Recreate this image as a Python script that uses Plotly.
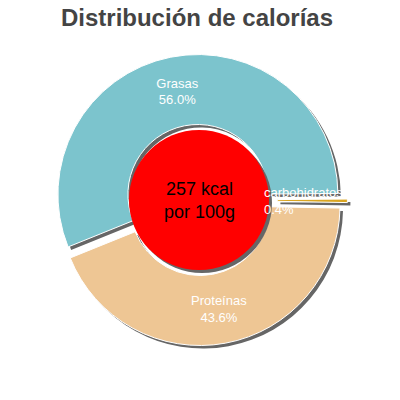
import math
import plotly.graph_objects as go

# data
labels = ['Grasas', 'carbohidratos', 'Proteínas']
values = [56.0, 0.4, 43.6]
kcal = 257
title_text = 'Distribución de calorías'

# style
colors = ['rgb(124,196,205)', 'rgb(218,165,32)', 'rgb(238,198,148)']
shadow = 'rgb(102,102,102)'
pulls = [0.04, 0.06, 0.04]
rotation = -112
hole = 0.5

W, H = 400, 400
PAGE = 8               # page body margin, the figure sits 8px in
CX, CY = 199 - PAGE, 200 - PAGE   # pie centre in figure pixels
R = 140                # outer radius in pixels
SH = 3                 # shadow offset in pixels


def pie_domain(dx=0, dy=0):
    """Domain box (paper coords) that gives a pie of radius R at the centre."""
    half = R * (1 + max(pulls))
    x0 = (CX + dx - half) / W
    x1 = (CX + dx + half) / W
    y0 = 1 - (CY + dy + half) / H
    y1 = 1 - (CY + dy - half) / H
    return dict(x=[x0, x1], y=[y0, y1])


def slice_mid_angle(i):
    """Bisector angle of slice i, degrees clockwise from 12 o'clock."""
    total = sum(values)
    before = sum(values[:i])
    return rotation + 360 * (before + values[i] / 2) / total


fig = go.Figure()

# shadow pie
fig.add_trace(go.Pie(
    labels=labels, values=values, sort=False, direction='clockwise',
    rotation=rotation, hole=hole, pull=pulls,
    marker=dict(colors=[shadow] * len(values), line=dict(width=0)),
    textinfo='none', hoverinfo='skip', showlegend=False,
    domain=pie_domain(SH, SH),
))

# main pie; the thin slice gets its label as an annotation
templates = ['%{label}<br>%{percent:.1%}' if v > 5 else '' for v in values]
fig.add_trace(go.Pie(
    labels=labels, values=values, sort=False, direction='clockwise',
    rotation=rotation, hole=hole, pull=pulls,
    marker=dict(colors=colors, line=dict(color='white', width=1)),
    texttemplate=templates, textposition='inside',
    insidetextorientation='horizontal',
    textfont=dict(family='Liberation Sans, Arial', size=13, color='white'),
    hoverinfo='skip', showlegend=False,
    domain=pie_domain(),
))

# red centre disc with its shadow
rc = R * hole
for dx, col in [(SH, shadow), (0, 'red')]:
    fig.add_shape(
        type='circle', xref='paper', yref='paper', layer='above',
        x0=(CX + dx - rc) / W, x1=(CX + dx + rc) / W,
        y0=1 - (CY + dx + rc) / H, y1=1 - (CY + dx - rc) / H,
        fillcolor=col, line=dict(width=0),
    )

# labels for slices too thin to hold text
for i, v in enumerate(values):
    if v > 5:
        continue
    ang = math.radians(slice_mid_angle(i))
    rmid = R * (1 + hole) / 2
    px = CX + rmid * math.sin(ang)
    py = CY - rmid * math.cos(ang)
    fig.add_annotation(
        x=px / W, y=1 - py / H, xref='paper', yref='paper',
        xanchor='center', yanchor='middle',
        text=f'{labels[i]}<br>{v / sum(values):.1%}', showarrow=False,
        align='left', font=dict(family='Liberation Sans, Arial', size=13, color='white'),
    )

fig.add_annotation(
    x=CX / W, y=1 - CY / H, xref='paper', yref='paper', showarrow=False,
    xanchor='center', yanchor='middle',
    text=f'{kcal} kcal<br>por 100g',
    font=dict(family='Liberation Sans, Arial', size=18, color='black'),
)

fig.update_layout(
    width=W, height=H,
    margin=dict(l=0, r=0, t=0, b=0),
    paper_bgcolor='white', plot_bgcolor='white',
    title=dict(text=f'<b>{title_text}</b>', x=(197 - PAGE) / W, xanchor='center',
               y=1 - (18 - PAGE) / H, yanchor='middle',
               font=dict(family='Liberation Sans, Arial', size=24, color='rgb(68,68,68)')),
)

fig.write_html('out.html')
